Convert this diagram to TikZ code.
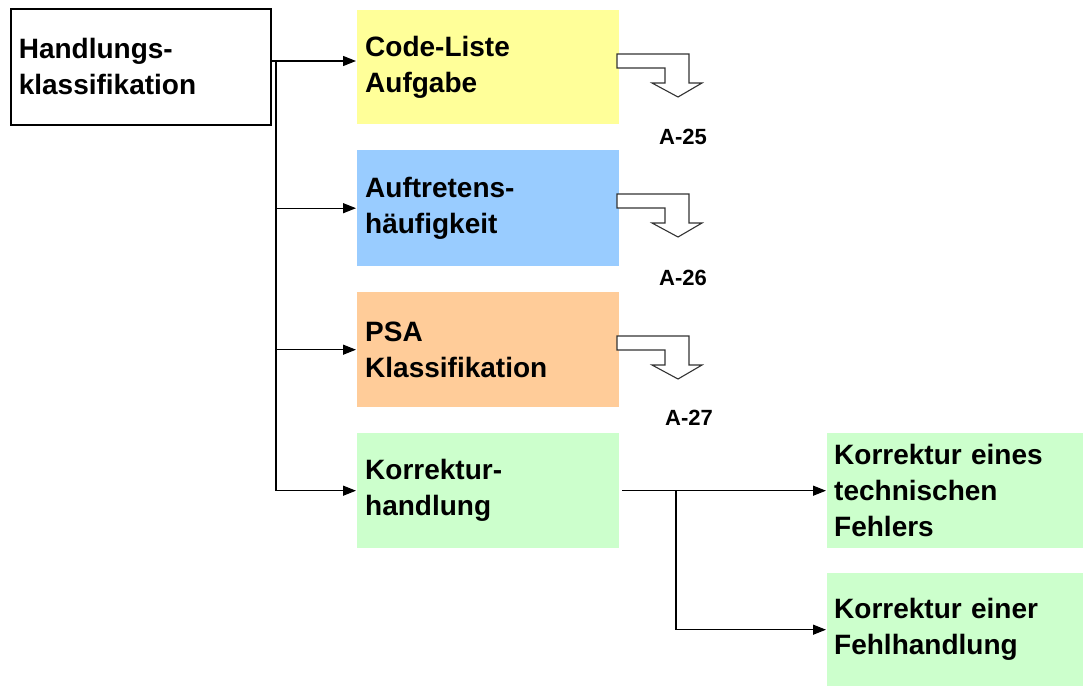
\documentclass[tikz,border=0pt]{standalone}
\usepackage{fontspec}
\setmainfont{Liberation Sans}
\usetikzlibrary{arrows.meta}

\definecolor{boxyellow}{HTML}{FFFF99}
\definecolor{boxblue}{HTML}{99CCFF}
\definecolor{boxorange}{HTML}{FFCC99}
\definecolor{boxgreen}{HTML}{CCFFCC}
\definecolor{outline}{HTML}{333333}

\tikzset{
  lbl/.style={font=\fontsize{28}{36}\selectfont\bfseries, align=left},
  catbox/.style={lbl, rectangle, anchor=north west, inner xsep=8pt, inner ysep=0pt,
    minimum width=262pt, text width=246pt},
  subbox/.style={lbl, rectangle, anchor=north west, inner xsep=7pt, inner ysep=0pt,
    minimum width=256pt, text width=242pt},
  conn/.style={line width=1.2pt, draw=black},
  arr/.style={conn, -{Triangle[length=13pt,width=10pt]}},
  ref/.style={font=\fontsize{22}{26}\selectfont\bfseries},
  bent/.pic={
    \draw[line width=1.1pt, draw=outline, fill=white, line join=miter]
      (0,0) -- (72,0) -- (72,29) -- (85,29) -- (61,43) -- (35,29)
      -- (48,29) -- (48,14) -- (0,14) -- cycle;
  }
}

\begin{document}
\begin{tikzpicture}[x=1pt, y=-1pt]
  \useasboundingbox (0,0) rectangle (1083,686);
  \fill[white] (0,0) rectangle (1083,686);

  % root of the classification
  \node[lbl, draw, line width=1.6pt, anchor=north west, inner xsep=8pt, inner ysep=0pt,
        minimum width=260pt, minimum height=116pt, text width=244pt]
        (hk) at (10,8) {Handlungs-\\klassifikation};

  % categories
  \node[catbox, fill=boxyellow, minimum height=114pt] (code) at (357,10) {Code-Liste\\Aufgabe};
  \node[catbox, fill=boxblue,   minimum height=116pt] (auf)  at (357,150) {Auftretens-\\häufigkeit};
  \node[catbox, fill=boxorange, minimum height=115pt] (psa)  at (357,292) {PSA\\Klassifikation};
  \node[catbox, fill=boxgreen,  minimum height=115pt] (korr) at (357,433) {Korrektur-\\handlung};

  % kinds of correction
  \node[subbox, fill=boxgreen, minimum height=115pt] (tech) at (827,433) {Korrektur eines\\technischen\\Fehlers};
  \node[subbox, fill=boxgreen, minimum height=113pt] (fehl) at (827,573) {Korrektur einer\\Fehlhandlung};

  % references to the code lists
  \pic at (617,54)  {bent};
  \pic at (617,194) {bent};
  \pic at (617,336) {bent};
  \node[ref] (r25) at (683,137) {A-25};
  \node[ref] (r26) at (683,278) {A-26};
  \node[ref] (r27) at (689,418) {A-27};

  % tree connectors
  \coordinate (trunk) at (276,61);
  \draw[arr] (hk.east |- trunk) -- ([xshift=-1pt]code.west |- trunk);
  \draw[arr] (trunk) |- ([xshift=-1pt]korr.west);
  \draw[arr] (trunk |- auf.west) -- ([xshift=-1pt]auf.west);
  \draw[arr] (trunk |- psa.west) -- ([xshift=-1pt]psa.west);

  \coordinate (split) at (676,490.5);
  \draw[arr] ([xshift=3pt]korr.east) -- ([xshift=-1pt]tech.west);
  \draw[arr] (split) |- ([xshift=-1pt]fehl.west);
\end{tikzpicture}
\end{document}
